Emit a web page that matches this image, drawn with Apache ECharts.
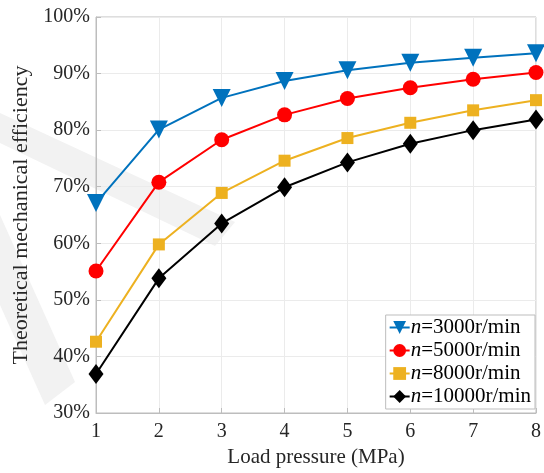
<!DOCTYPE html>
<html>
<head>
<meta charset="utf-8">
<script src="https://cdn.jsdelivr.net/npm/echarts@6/dist/echarts.min.js"></script>
<style>html,body{margin:0;padding:0;background:#fff;}#c{width:544px;height:473px;}</style>
</head>
<body>
<div id="c"></div>
<script>
const pressures = [1, 2, 3, 4, 5, 6, 7, 8];
const seriesNames = ['3000r/min', '5000r/min', '8000r/min', '10000r/min'];
const eff3000 = [67.1, 80.1, 85.7, 88.7, 90.6, 91.9, 92.8, 93.6];
const eff5000 = [55.1, 70.8, 78.3, 82.7, 85.6, 87.5, 89.0, 90.2];
const eff8000 = [42.6, 59.8, 68.9, 74.6, 78.6, 81.3, 83.5, 85.3];
const eff10000 = [36.9, 53.8, 63.5, 69.9, 74.3, 77.6, 80.0, 81.9];
const yTicks = [30, 40, 50, 60, 70, 80, 90, 100];

const font = 'Liberation Serif';
const chart = echarts.init(document.getElementById('c'));

function pairs(vals) { return pressures.map((p, i) => [p, vals[i]]); }

const styles = [
  { color: '#0072BD', symbol: 'triangle', size: 18, rotate: 180 },
  { color: '#FF0000', symbol: 'circle', size: 15, rotate: 0 },
  { color: '#EDB120', symbol: 'rect', size: 12, rotate: 0 },
  { color: '#000000', symbol: 'diamond', size: [15, 20], rotate: 0 }
];
const allVals = [eff3000, eff5000, eff8000, eff10000];

chart.setOption({
  animation: false,
  backgroundColor: '#fff',
  graphic: [
    { type: 'polygon', z: -10, shape: { points: [[0,113],[235,222],[215,246],[0,143]] }, style: { fill: '#f2f2f2' } },
    { type: 'polygon', z: -10, shape: { points: [[0,215],[75,382],[45,405],[0,305]] }, style: { fill: '#f2f2f2' } }
  ],
  grid: { left: 96, right: 5, top: 17, bottom: 60, show: true, borderColor: '#bdbdbd', borderWidth: 1, backgroundColor: 'transparent' },
  xAxis: {
    type: 'value', min: 1, max: 8, interval: 1,
    name: 'Load pressure (MPa)', nameLocation: 'middle', nameGap: 33,
    nameTextStyle: { fontFamily: font, fontSize: 21, color: '#262626' },
    axisLine: { lineStyle: { color: '#bdbdbd' } },
    axisTick: { inside: true, length: 5, lineStyle: { color: '#bdbdbd' } },
    axisLabel: { fontFamily: font, fontSize: 20, color: '#262626', margin: 9 },
    splitLine: { show: true, lineStyle: { color: '#ebebeb' } }
  },
  yAxis: {
    type: 'value', min: 30, max: 100, interval: 10,
    name: 'Theoretical mechanical efficiency', nameLocation: 'middle', nameGap: 57,
    nameTextStyle: { fontFamily: font, fontSize: 22, color: '#262626' },
    axisLine: { lineStyle: { color: '#bdbdbd' } },
    axisTick: { inside: true, length: 5, lineStyle: { color: '#bdbdbd' } },
    axisLabel: { fontFamily: font, fontSize: 20, color: '#262626', margin: 6,
      formatter: v => yTicks.includes(v) ? v + '%' : '' },
    splitLine: { show: true, lineStyle: { color: '#ebebeb' } }
  },
  legend: {
    orient: 'vertical', right: 9, bottom: 64,
    backgroundColor: '#fff', borderColor: '#bdbdbd', borderWidth: 1,
    padding: [2, 4, 2, 3], itemGap: 2, itemWidth: 20, itemHeight: 16,
    data: seriesNames,
    formatter: name => '{i|n}{t|=' + name + '}',
    textStyle: {
      padding: [0, 0, 0, -4],
      rich: {
        i: { fontFamily: font, fontStyle: 'italic', fontSize: 21, lineHeight: 22, color: '#000' },
        t: { fontFamily: font, fontSize: 21, lineHeight: 22, color: '#000' }
      }
    }
  },
  series: allVals.map((vals, k) => ({
    name: seriesNames[k], type: 'line', data: pairs(vals),
    symbol: styles[k].symbol, symbolSize: styles[k].size, symbolRotate: styles[k].rotate,
    showAllSymbol: true, clip: false,
    lineStyle: { color: styles[k].color, width: 2 },
    itemStyle: { color: styles[k].color, borderWidth: 0 }
  }))
});
</script>
</body>
</html>
